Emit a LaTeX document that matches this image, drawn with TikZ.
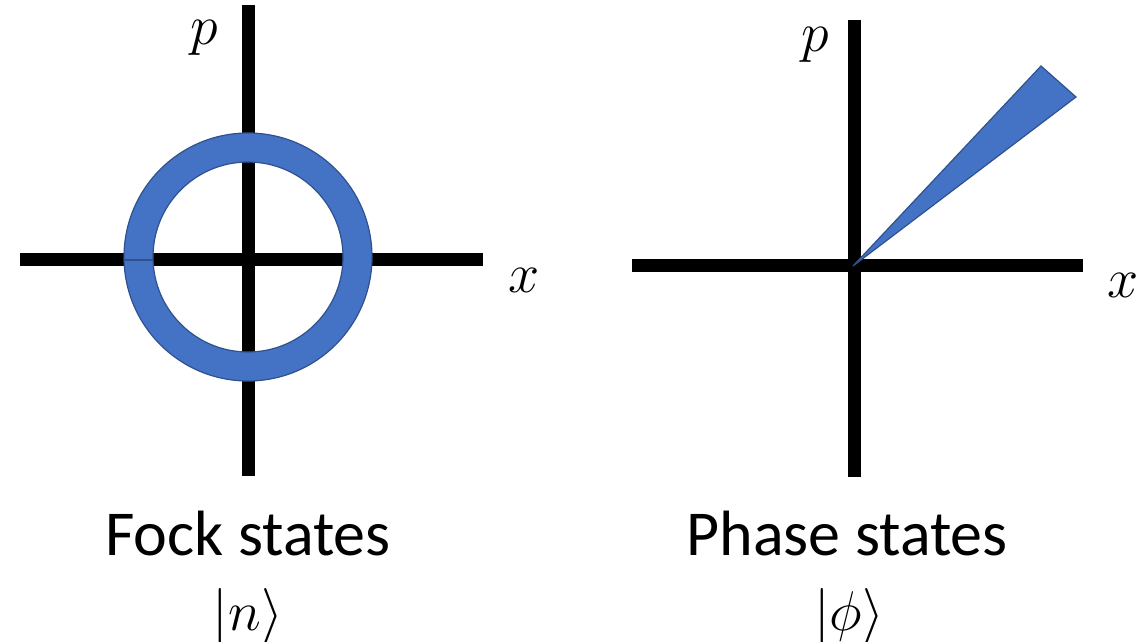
\RequirePackage{fix-cm}
\documentclass[tikz,border=0pt]{standalone}
\usepackage{fontspec}
\setmainfont{Carlito}
\definecolor{ringblue}{HTML}{4472C4}
\definecolor{ringedge}{HTML}{2F528F}
\tikzset{
  axis/.style={line width=13pt, black},
  blob/.style={fill=ringblue, draw=ringedge, line width=1.2pt},
  axlabel/.style={inner sep=0pt, font=\fontsize{56}{60}\selectfont},
  caption/.style={inner sep=0pt, anchor=base, font=\fontsize{64}{70}\selectfont},
  ket/.style={inner sep=0pt, font=\fontsize{56}{60}\selectfont}
}
\begin{document}
\begin{tikzpicture}[x=1pt,y=-1pt]
\useasboundingbox (0,0) rectangle (1137,642);
% left panel axes
\coordinate (lO) at (248,259);
\coordinate (lT) at (248,5);
\coordinate (lB) at (248,476);
\coordinate (lL) at (20,259);
\coordinate (lR) at (483,259);
\draw[axis] (lL) -- (lR);
\draw[axis] (lT) -- (lB);
% ring
\path[blob, even odd rule] (248,257) circle (124) (248,257) circle (95);
\coordinate (sA) at (124,260);
\coordinate (sB) at (153,260);
\draw[ringedge, line width=1.2pt] (sA) -- (sB);
\node[axlabel] (lp) at (204,38) {$p$};
\node[axlabel] (lx) at (524,280) {$x$};
\node[caption] (lcap) at (248,555) {Fock states};
\node[ket] (lket) at (248,616) {$|n\rangle$};
% right panel axes
\coordinate (rO) at (854,265);
\coordinate (rT) at (854,20);
\coordinate (rB) at (854,477);
\coordinate (rL) at (632,265);
\coordinate (rR) at (1083,265);
\draw[axis] (rL) -- (rR);
\draw[axis] (rT) -- (rB);
% wedge
\coordinate (w0) at (853,266);
\coordinate (w1) at (1041,66);
\coordinate (w2) at (1076,97);
\path[blob, line join=miter] (w0) -- (w1) -- (w2) -- cycle;
\node[axlabel] (rp) at (815,45) {$p$};
\node[axlabel] (rx) at (1123,285) {$x$};
\node[caption] (rcap) at (847,555) {Phase states};
\node[ket] (rket) at (849,616) {$|\phi\rangle$};
\end{tikzpicture}
\end{document}
